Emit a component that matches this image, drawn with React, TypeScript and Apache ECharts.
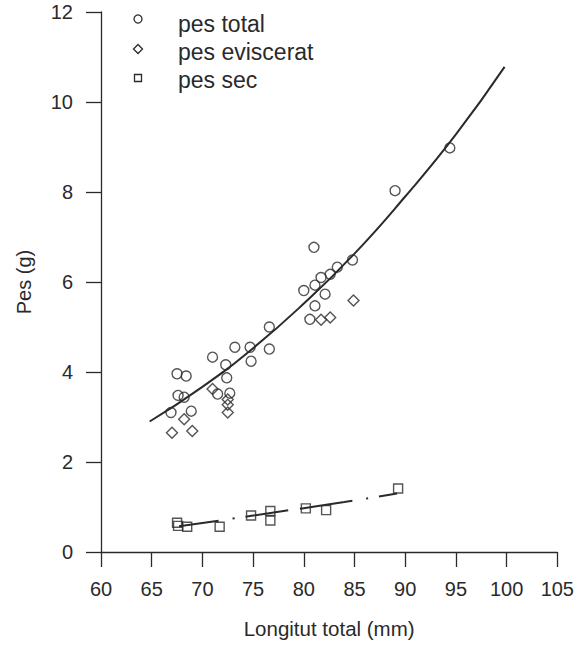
import React, { useEffect, useRef } from "react";
import * as echarts from "echarts";

// Longitut total (mm), Pes (g)
const pesTotal: [number, number][] = [
  [66.9, 3.1], [67.5, 3.96], [68.4, 3.91], [67.6, 3.48], [68.2, 3.44], [68.9, 3.13],
  [71.0, 4.33], [72.3, 4.16], [72.4, 3.87], [71.5, 3.51], [72.7, 3.53],
  [73.2, 4.55], [74.7, 4.55], [74.8, 4.24], [76.6, 5.0], [76.6, 4.51],
  [80.0, 5.81], [80.6, 5.17], [81.0, 6.77], [81.1, 5.93], [81.1, 5.47],
  [81.7, 6.1], [82.1, 5.73], [82.6, 6.17], [83.3, 6.33], [84.8, 6.49],
  [89.0, 8.03], [94.4, 8.98],
];
const pesEviscerat: [number, number][] = [
  [67.0, 2.65], [68.2, 2.95], [69.0, 2.69], [71.0, 3.62], [72.5, 3.39],
  [72.5, 3.27], [72.5, 3.1], [81.7, 5.16], [82.6, 5.21], [84.9, 5.59],
];
const pesSec: [number, number][] = [
  [67.5, 0.65], [67.6, 0.58], [68.5, 0.56], [71.7, 0.56], [74.8, 0.81],
  [76.7, 0.91], [76.7, 0.7], [80.2, 0.97], [82.2, 0.93], [89.3, 1.41],
];
// fitted curves
const corbaTotal: [number, number][] = [
  [64.8, 2.9], [70, 3.67], [75, 4.53], [80, 5.52], [85, 6.63], [90, 7.9], [95, 9.28], [99.8, 10.78],
];
const corbaSec: [number, number][] = [
  [67.7, 0.57], [72, 0.71], [78, 0.91], [84, 1.11], [89.2, 1.3],
];
const legendNames = ["pes total", "pes eviscerat", "pes sec"];
const xTitle = "Longitut total (mm)";
const yTitle = "Pes (g)";

const INK = "#2a2a2a";
const FONT = "Liberation Sans, Arial, Helvetica, sans-serif";

export default function App() {
  const ref = useRef<HTMLDivElement>(null);
  useEffect(() => {
    document.body.style.margin = "0";
    document.body.style.overflow = "hidden";
    if (!ref.current) return;
    const chart = echarts.init(ref.current, undefined, { renderer: "svg" });
    const markerStyle = { color: "transparent", borderColor: INK, borderWidth: 1.4 };
    const legendText = (i: number, y: number) => ({
      type: "text",
      left: 178,
      top: y,
      style: { text: legendNames[i], font: `23px ${FONT}`, fill: INK },
    });
    chart.setOption({
      animation: false,
      backgroundColor: "#fff",
      grid: { left: 101, right: 19, top: 12, bottom: 96 },
      xAxis: {
        type: "value",
        min: 60,
        max: 105,
        interval: 5,
        name: xTitle,
        nameLocation: "middle",
        nameGap: 66,
        nameTextStyle: { fontSize: 20.5, color: INK, fontFamily: FONT },
        axisLine: { lineStyle: { color: INK, width: 1.3 } },
        axisTick: { length: 15, lineStyle: { color: INK, width: 1.3 } },
        axisLabel: { margin: 27, fontSize: 20, color: INK, fontFamily: FONT },
        splitLine: { show: false },
      },
      yAxis: {
        type: "value",
        min: 0,
        max: 12,
        interval: 2,
        name: yTitle,
        nameLocation: "middle",
        nameGap: 67,
        nameTextStyle: { fontSize: 20, color: INK, fontFamily: FONT },
        axisLine: { show: true, lineStyle: { color: INK, width: 1.3 } },
        axisTick: { show: true, length: 15, lineStyle: { color: INK, width: 1.3 } },
        axisLabel: { margin: 28, fontSize: 20, color: INK, fontFamily: FONT },
        splitLine: { show: false },
      },
      series: [
        {
          type: "line",
          data: corbaTotal,
          smooth: true,
          showSymbol: false,
          lineStyle: { color: INK, width: 2 },
          z: 1,
        },
        {
          type: "line",
          data: corbaSec,
          smooth: true,
          showSymbol: false,
          lineStyle: { color: INK, width: 2, type: [43, 12, 53, 14, 2, 11], dashOffset: 68 },
          z: 1,
        },
        {
          name: legendNames[0],
          type: "scatter",
          data: pesTotal,
          symbol: "circle",
          symbolSize: 10,
          itemStyle: markerStyle,
          z: 2,
        },
        {
          name: legendNames[1],
          type: "scatter",
          data: pesEviscerat,
          symbol: "diamond",
          symbolSize: [11, 11],
          itemStyle: markerStyle,
          z: 2,
        },
        {
          name: legendNames[2],
          type: "scatter",
          data: pesSec,
          symbol: "rect",
          symbolSize: 9,
          itemStyle: markerStyle,
          z: 2,
        },
      ],
      graphic: [
        {
          type: "circle",
          shape: { cx: 138, cy: 19, r: 4 },
          style: { fill: "none", stroke: INK, lineWidth: 1.3 },
        },
        {
          type: "polygon",
          shape: { points: [[138, 44.5], [142.5, 49], [138, 53.5], [133.5, 49]] },
          style: { fill: "none", stroke: INK, lineWidth: 1.3 },
        },
        {
          type: "rect",
          shape: { x: 134.5, y: 74.5, width: 7, height: 7 },
          style: { fill: "none", stroke: INK, lineWidth: 1.3 },
        },
        legendText(0, 12),
        legendText(1, 40),
        legendText(2, 68),
      ],
    });
    return () => chart.dispose();
  }, []);
  return <div ref={ref} style={{ width: 577, height: 648 }} />;
}
